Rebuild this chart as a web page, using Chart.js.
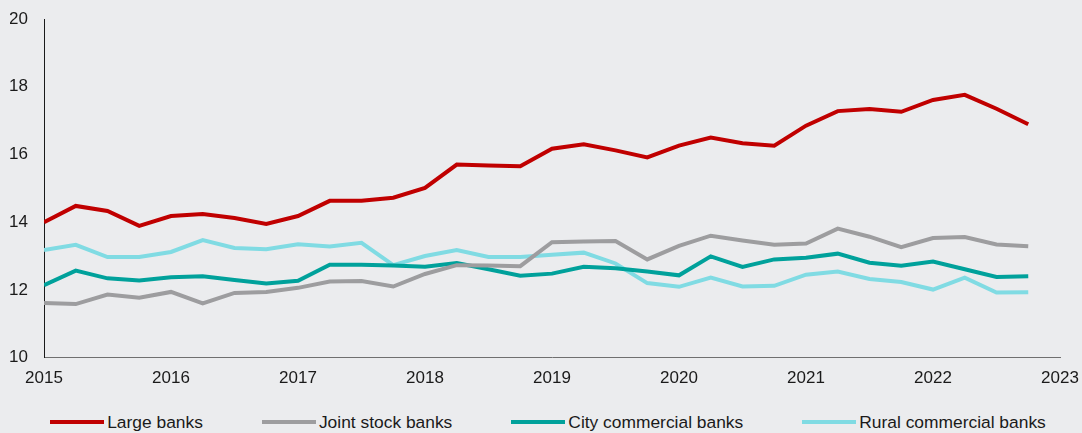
<!DOCTYPE html>
<html lang="en">
<head>
    <meta charset="UTF-8">
    <title>Banks</title>
    <script src="https://cdn.jsdelivr.net/npm/chart.js"></script>
    <style>
        body { margin: 0; background: #ebecee; font-family: "Liberation Sans", Arial, sans-serif; }
        .grafico { position: relative; width: 1082px; height: 400px; }
        .legenda {
            display: flex; justify-content: center; align-items: center; gap: 59px;
            width: 1082px; height: 33px; box-sizing: border-box; padding: 11px 0 0 14px;
            font-size: 17.4px; color: #1a1a1a;
        }
        .legenda .item { display: flex; align-items: center; white-space: nowrap; flex-shrink: 0; }
        .legenda .linha { width: 54px; height: 4px; margin-right: 3px; flex-shrink: 0; }
    </style>
</head>
<body>
    <div class="grafico"><canvas id="myChart"></canvas></div>
    <div class="legenda" id="legenda"></div>
<script>
    // quarterly data, 2015Q1 - 2022Q4
    const quarters = ['2015Q1', '2015Q2', '2015Q3', '2015Q4', '2016Q1', '2016Q2', '2016Q3', '2016Q4',
        '2017Q1', '2017Q2', '2017Q3', '2017Q4', '2018Q1', '2018Q2', '2018Q3', '2018Q4',
        '2019Q1', '2019Q2', '2019Q3', '2019Q4', '2020Q1', '2020Q2', '2020Q3', '2020Q4',
        '2021Q1', '2021Q2', '2021Q3', '2021Q4', '2022Q1', '2022Q2', '2022Q3', '2022Q4'];

    const largeBanks = [14.00, 14.48, 14.33, 13.89, 14.18, 14.24, 14.12, 13.95, 14.18, 14.63, 14.63, 14.72,
        15.01, 15.70, 15.67, 15.65, 16.17, 16.30, 16.12, 15.91, 16.26, 16.50, 16.33, 16.26,
        16.85, 17.28, 17.34, 17.26, 17.61, 17.76, 17.35, 16.89];
    const jointStockBanks = [11.61, 11.58, 11.86, 11.77, 11.94, 11.60, 11.91, 11.94, 12.06, 12.25, 12.26, 12.10,
        12.47, 12.73, 12.72, 12.70, 13.41, 13.43, 13.44, 12.90, 13.30, 13.60, 13.46, 13.33,
        13.37, 13.81, 13.57, 13.26, 13.53, 13.56, 13.34, 13.29];
    const cityBanks = [12.14, 12.57, 12.34, 12.28, 12.37, 12.40, 12.29, 12.19, 12.27, 12.74, 12.74, 12.72,
        12.68, 12.79, 12.61, 12.42, 12.48, 12.68, 12.64, 12.54, 12.43, 12.99, 12.68, 12.90,
        12.95, 13.07, 12.80, 12.71, 12.84, 12.61, 12.38, 12.40];
    const ruralBanks = [13.18, 13.33, 12.97, 12.97, 13.12, 13.47, 13.24, 13.20, 13.35, 13.28, 13.39, 12.73,
        13.00, 13.18, 12.97, 12.97, 13.04, 13.10, 12.78, 12.20, 12.09, 12.36, 12.10, 12.12,
        12.45, 12.54, 12.32, 12.23, 12.01, 12.36, 11.92, 11.93];

    const seriesNames = ['Large banks', 'Joint stock banks', 'City commercial banks', 'Rural commercial banks'];
    const seriesColors = ['#c00000', '#9d9d9f', '#00a19b', '#80dbe3'];
    const seriesValues = [largeBanks, jointStockBanks, cityBanks, ruralBanks];

    const yTicks = [10, 12, 14, 16, 18, 20];
    const xYears = [2015, 2016, 2017, 2018, 2019, 2020, 2021, 2022, 2023];

    // "2016Q3" -> 2016.5
    function quarterToX(q) {
        return Number(q.slice(0, 4)) + (Number(q.slice(5)) - 1) / 4;
    }

    const fonte = { family: '"Liberation Sans", Arial, sans-serif', size: 17 };

    let dados = {
        datasets: seriesNames.map(function (nome, i) {
            return {
                label: nome,
                data: seriesValues[i].map(function (v, j) { return { x: quarterToX(quarters[j]), y: v }; }),
                borderColor: seriesColors[i],
                backgroundColor: seriesColors[i],
                borderWidth: 4,
                pointRadius: 0,
                tension: 0,
                fill: false
            };
        })
    };

    const config = {
        type: 'line',
        data: dados,
        options: {
            responsive: true,
            maintainAspectRatio: false,
            animation: false,
            layout: { padding: { top: 19, left: 10, right: 0, bottom: 0 } },
            plugins: { legend: { display: false }, tooltip: { enabled: false } },
            scales: {
                x: {
                    type: 'linear',
                    min: xYears[0],
                    max: xYears[xYears.length - 1],
                    afterBuildTicks: function (axis) { axis.ticks = xYears.map(function (v) { return { value: v }; }); },
                    afterFit: function (axis) { axis.paddingRight = 22; },
                    grid: { display: false, drawTicks: false },
                    border: { color: '#6f6f6f', width: 1 },
                    ticks: { color: '#1a1a1a', font: fonte, padding: 11, maxRotation: 0, callback: function (v) { return String(v); } }
                },
                y: {
                    min: yTicks[0],
                    max: yTicks[yTicks.length - 1],
                    afterBuildTicks: function (axis) { axis.ticks = yTicks.map(function (v) { return { value: v }; }); },
                    afterFit: function (axis) { axis.width = 34; axis.paddingTop = 0; },
                    grid: { display: false, drawTicks: false },
                    border: { color: '#1a1a1a', width: 1 },
                    ticks: { color: '#1a1a1a', font: fonte, padding: 16 }
                }
            }
        }
    };

    let myChart = new Chart(document.getElementById('myChart'), config);

    // legenda em html
    const legenda = document.getElementById('legenda');
    seriesNames.forEach(function (nome, i) {
        legenda.innerHTML += '<div class="item"><span class="linha" style="background:' + seriesColors[i] + '"></span>' + nome + '</div>';
    });
</script>
</body>
</html>
